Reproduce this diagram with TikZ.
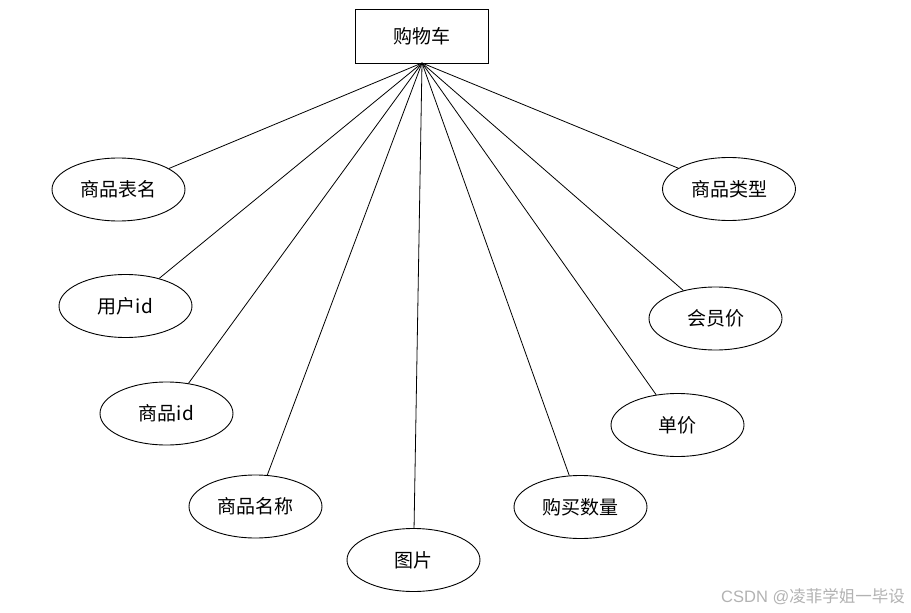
\documentclass[tikz,border=0pt]{standalone}
\usepackage{fontspec}
\setmainfont{Noto Sans CJK SC}
\newfontfamily\wmfont{Liberation Sans}
\usetikzlibrary{shapes.geometric}

\begin{document}
\begin{tikzpicture}[x=1pt, y=-1pt,
  entity/.style={draw, line width=0.9pt, minimum width=133pt, minimum height=54pt, inner sep=0pt, font=\fontsize{19}{22}\selectfont},
  attr/.style={draw, ellipse, line width=0.9pt, minimum width=133pt, minimum height=63pt, inner sep=0pt, font=\fontsize{19}{22}\selectfont},
  link/.style={line width=0.8pt}
]
  \useasboundingbox (0,0) rectangle (911,613);

  \node[entity] (cart) at (421.5,36) {购物车};
  \coordinate (hub) at (422,63);

  \node[attr] (tablename) at (118.5,189.5) {商品表名};
  \node[attr] (userid) at (125.5,306) {用户id};
  \node[attr] (goodsid) at (166.5,413.5) {商品id};
  \node[attr] (goodsname) at (255.5,506.5) {商品名称};
  \node[attr] (picture) at (413.5,560) {图片};
  \node[attr] (amount) at (580.5,507) {购买数量};
  \node[attr] (price) at (677.5,425) {单价};
  \node[attr] (vipprice) at (715.5,318.5) {会员价};
  \node[attr] (goodstype) at (729,189) {商品类型};

  \draw[link] (hub) -- (tablename);
  \draw[link] (hub) -- (userid);
  \draw[link] (hub) -- (goodsid);
  \draw[link] (hub) -- (goodsname);
  \draw[link] (hub) -- (picture);
  \draw[link] (hub) -- (amount);
  \draw[link] (hub) -- (price);
  \draw[link] (hub) -- (vipprice);
  \draw[link] (hub) -- (goodstype);

  % watermark
  \node[text=black!30, font=\fontsize{16.5}{18}\selectfont, anchor=east, inner sep=0pt] (mark) at (905,597) {{\wmfont CSDN @}凌菲学姐一毕设};
\end{tikzpicture}
\end{document}
